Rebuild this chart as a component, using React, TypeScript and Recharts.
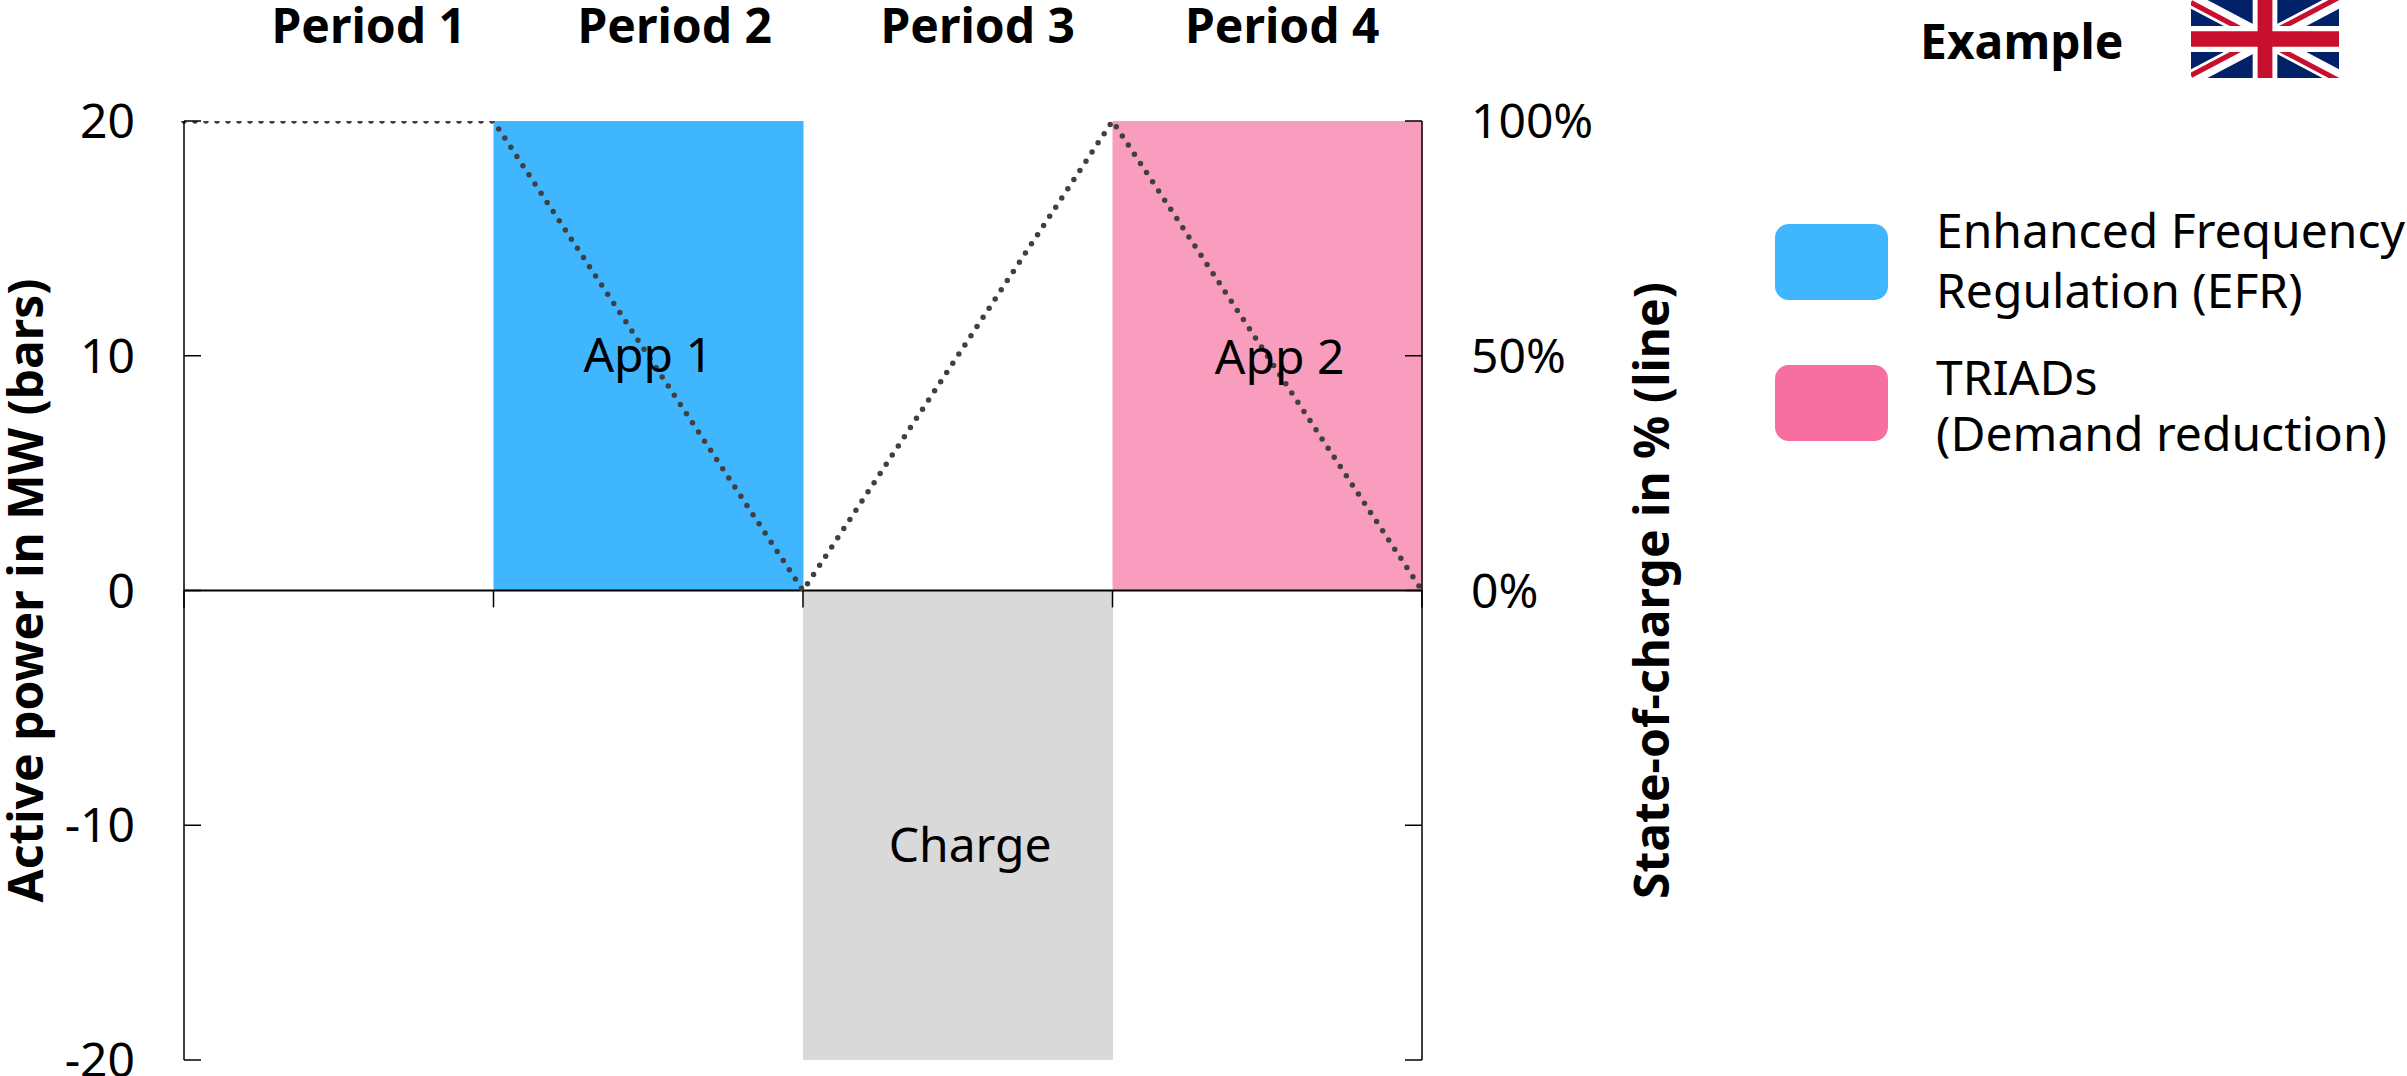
import React from 'react';
import { ComposedChart, Bar, Line, XAxis, YAxis, ReferenceLine, ReferenceDot } from 'recharts';

const periods = ['Period 1', 'Period 2', 'Period 3', 'Period 4'];
const efr = [0, 20, 0, 0];
const charge = [0, 0, -20, 0];
const triads = [0, 0, 0, 20];

const socX = [0, 1, 2, 3, 4];
const socValues = [100, 100, 0, 100, 0];

const powerTicks = [-20, -10, 0, 10, 20];
const socTicks = [-100, -50, 0, 50, 100];
const boundaries = [0, 1, 2, 3, 4];

const notes = [
  { text: 'App 1', x: 1.5, y: 10.03 },
  { text: 'Charge', x: 2.54, y: -10.85 },
  { text: 'App 2', x: 3.54, y: 9.93 },
];

const labelShift = [30, 26.5, 20, 15];

const barData = periods.map((name, i) => ({ name, efr: efr[i], charge: charge[i], triads: triads[i] }));
const socData = socX.map((x, i) => ({ x, soc: socValues[i] }));

const FONT = '"Noto Sans", sans-serif';
const AXIS = '#000000';

const PeriodTick = ({ x, index, payload }: any) => (
  <text x={x + labelShift[index]} y={43} textAnchor="middle" fontSize={48} fontWeight={700} fontFamily={FONT} fill="#000">
    {payload.value}
  </text>
);

const Flag = () => (
  <svg style={{ position: 'absolute', left: 2191, top: 0 }} width={148} height={78} viewBox="0 0 60 30" preserveAspectRatio="none">
    <rect width={60} height={30} fill="#012169" />
    <path d="M0,0 L60,30 M60,0 L0,30" stroke="#fff" strokeWidth={6} />
    <path d="M0,0 L30,15 M60,30 L30,15" stroke="#C8102E" strokeWidth={2} transform="translate(0,1)" />
    <path d="M60,0 L30,15 M0,30 L30,15" stroke="#C8102E" strokeWidth={2} transform="translate(0,-1)" />
    <path d="M30,0 V30 M0,15 H60" stroke="#fff" strokeWidth={10} />
    <path d="M30,0 V30 M0,15 H60" stroke="#C8102E" strokeWidth={6} />
  </svg>
);

const legendItems = [
  { color: '#40B6FF', top: 224, textTop: 200, lineHeight: 60, lines: ['Enhanced Frequency', 'Regulation (EFR)'] },
  { color: '#F66FA0', top: 365, textTop: 349, lineHeight: 56, lines: ['TRIADs', '(Demand reduction)'] },
];

const App: React.FC = () => {
  return (
    <div style={{ position: 'absolute', left: 0, top: 0, width: 2407, height: 1076, background: '#fff', overflow: 'hidden', fontFamily: FONT }}>
      <ComposedChart
        width={2407}
        height={1076}
        data={barData}
        barCategoryGap={0}
        margin={{ top: 0, right: 725, bottom: 16, left: 0 }}
      >
        <XAxis xAxisId="band" dataKey="name" orientation="top" height={121} axisLine={false} tickLine={false} tick={<PeriodTick />} interval={0} />
        <XAxis xAxisId="soc" dataKey="x" type="number" domain={[0, 4]} hide />
        <YAxis
          yAxisId="power"
          width={184}
          domain={[-20, 20]}
          ticks={powerTicks}
          interval={0}
          tickSize={-17}
          tickMargin={66}
          stroke={AXIS}
          strokeWidth={1.5}
          tick={{ fontSize: 48, fontFamily: FONT, fill: '#000' }}
          label={{ value: 'Active power in MW (bars)', angle: -90, position: 'insideLeft', offset: 26, style: { textAnchor: 'middle', fontSize: 48, fontWeight: 700, fontFamily: FONT, fill: '#000' } }}
        />
        <YAxis
          yAxisId="soc"
          orientation="right"
          width={260}
          domain={[-100, 100]}
          ticks={socTicks}
          interval={0}
          tickSize={-17}
          tickMargin={66}
          stroke={AXIS}
          strokeWidth={1.5}
          allowDataOverflow
          tickFormatter={(v: number) => (v < 0 ? '' : `${v}%`)}
          tick={{ fontSize: 48, fontFamily: FONT, fill: '#000' }}
          label={{ value: 'State-of-charge in % (line)', angle: -90, position: 'insideLeft', offset: 230, style: { textAnchor: 'middle', fontSize: 48, fontWeight: 700, fontFamily: FONT, fill: '#000' } }}
        />
        <Bar xAxisId="band" yAxisId="power" dataKey="efr" stackId="p" fill="#40B6FF" isAnimationActive={false} />
        <Bar xAxisId="band" yAxisId="power" dataKey="charge" stackId="p" fill="#D9D9D9" isAnimationActive={false} />
        <Bar xAxisId="band" yAxisId="power" dataKey="triads" stackId="p" fill="#F99DBF" isAnimationActive={false} />
        <ReferenceLine xAxisId="soc" yAxisId="power" y={0} stroke={AXIS} strokeWidth={2} />
        {boundaries.map((b) => (
          <ReferenceLine
            key={b}
            xAxisId="soc"
            yAxisId="power"
            segment={[{ x: b, y: 0 }, { x: b, y: -0.72 }]}
            stroke={AXIS}
            strokeWidth={1.5}
          />
        ))}
        <Line
          xAxisId="soc"
          yAxisId="soc"
          data={socData}
          dataKey="soc"
          type="linear"
          stroke="#404040"
          strokeWidth={5.5}
          strokeLinecap="round"
          strokeDasharray="0 11"
          dot={false}
          activeDot={false}
          isAnimationActive={false}
        />
        {notes.map((n) => (
          <ReferenceDot
            key={n.text}
            xAxisId="soc"
            yAxisId="power"
            x={n.x}
            y={n.y}
            r={0}
            stroke="none"
            label={{ value: n.text, position: 'center', fontSize: 48, fontFamily: FONT, fill: '#000' }}
          />
        ))}
      </ComposedChart>

      <div style={{ position: 'absolute', left: 1920, top: 11, fontSize: 48, fontWeight: 700, lineHeight: '60px', color: '#000' }}>Example</div>
      <Flag />

      {legendItems.map((item) => (
        <React.Fragment key={item.color}>
          <div style={{ position: 'absolute', left: 1775, top: item.top, width: 113, height: 76, borderRadius: 14, background: item.color }} />
          <div style={{ position: 'absolute', left: 1936, top: item.textTop, fontSize: 48, lineHeight: `${item.lineHeight}px`, whiteSpace: 'nowrap', color: '#000' }}>
            {item.lines.map((l) => (
              <div key={l}>{l}</div>
            ))}
          </div>
        </React.Fragment>
      ))}
    </div>
  );
};

export default App;
